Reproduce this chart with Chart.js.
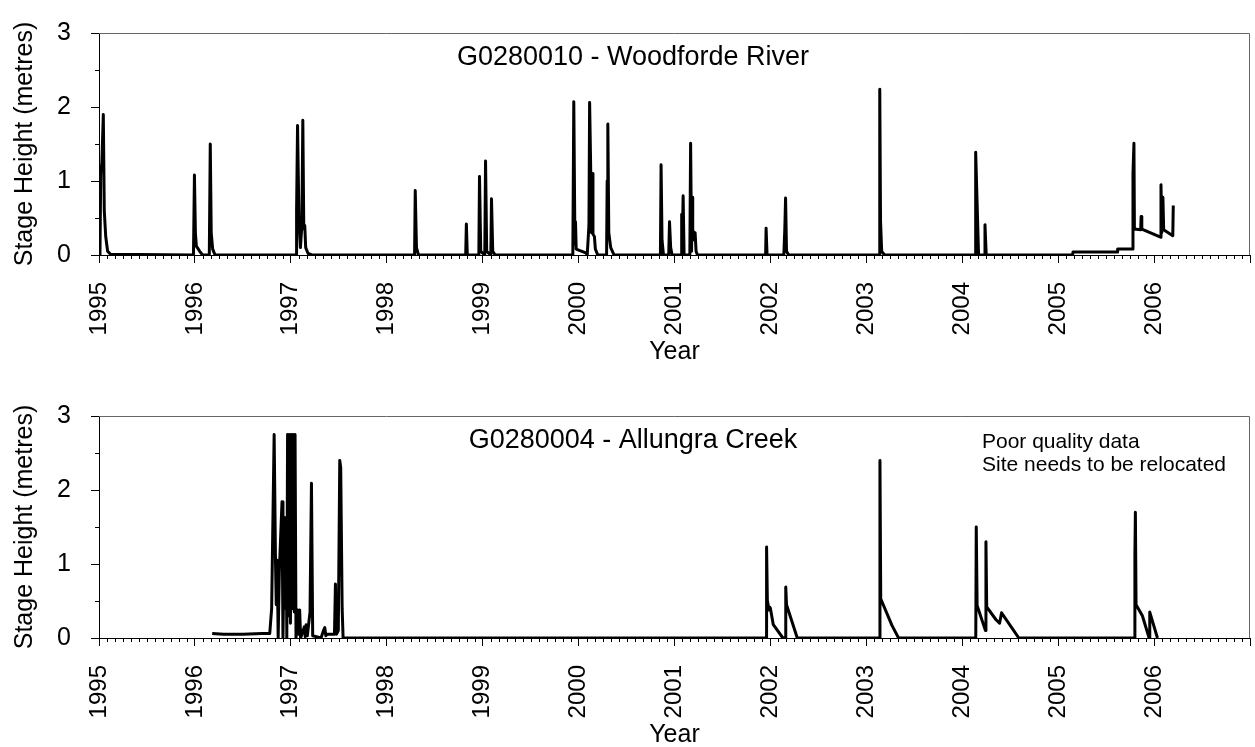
<!DOCTYPE html>
<html>
<head>
<meta charset="utf-8">
<script src="https://cdn.jsdelivr.net/npm/chart.js@4.4.1/dist/chart.umd.min.js"></script>
<style>
  html, body { margin: 0; padding: 0; background: #fff; overflow: hidden; }
  #wrap { position: relative; width: 1255px; height: 747px; }
  canvas { position: absolute; left: 0; }
</style>
</head>
<body>
<div id="wrap">
  <canvas id="woodforde" width="1255" height="373" style="top:0px"></canvas>
  <canvas id="allungra" width="1255" height="373" style="top:383px"></canvas>
</div>
<script>
// year ticks shown on both x axes
const yearTicks = [1995, 1996, 1997, 1998, 1999, 2000, 2001, 2002, 2003, 2004, 2005, 2006];

// G0280010 - Woodforde River (decimal year, stage in metres)
const woodYears = [
  1995.010, 1995.018, 1995.030, 1995.045, 1995.055, 1995.070, 1995.090, 1995.120,
  1995.985, 1995.995, 1996.005, 1996.015, 1996.050, 1996.080,
  1996.150, 1996.160, 1996.170, 1996.185, 1996.210,
  1997.055, 1997.060, 1997.070, 1997.085, 1997.100, 1997.115, 1997.125, 1997.135, 1997.145, 1997.155, 1997.180, 1997.220,
  1998.290, 1998.297, 1998.310, 1998.330,
  1998.823, 1998.830, 1998.840,
  1998.960, 1998.967, 1998.980,
  1999.022, 1999.030, 1999.042,
  1999.085, 1999.092, 1999.105, 1999.130,
  1999.940, 1999.950, 1999.962, 1999.968, 1999.975, 2000.075, 2000.090,
  2000.108, 2000.115, 2000.125, 2000.135, 2000.142, 2000.150, 2000.165, 2000.175, 2000.200,
  2000.292, 2000.298, 2000.305, 2000.315, 2000.335, 2000.370,
  2000.853, 2000.860, 2000.870, 2000.885,
  2000.940, 2000.948, 2000.960, 2000.975,
  2001.070, 2001.075, 2001.080, 2001.090, 2001.100,
  2001.160, 2001.168, 2001.178, 2001.183, 2001.190, 2001.196, 2001.205, 2001.215, 2001.225, 2001.240,
  2001.950, 2001.955, 2001.965,
  2002.140, 2002.150, 2002.158, 2002.168, 2002.190,
  2003.135, 2003.140, 2003.148, 2003.160, 2003.190,
  2004.135, 2004.140, 2004.170,
  2004.230, 2004.237, 2004.250,
  2005.150, 2005.155, 2005.615, 2005.620, 2005.775,
  2005.780, 2005.790, 2005.795, 2005.860, 2005.865, 2005.872,
  2006.068, 2006.072, 2006.080, 2006.092, 2006.100, 2006.195, 2006.200
];
const woodStage = [
  0.00, 1.10, 1.25, 1.90, 0.60, 0.25, 0.05, 0.01,
  0.00, 1.08, 0.30, 0.12, 0.05, 0.00,
  0.00, 1.50, 0.30, 0.08, 0.00,
  0.00, 0.60, 1.75, 0.45, 0.10, 0.40, 1.82, 0.35, 0.40, 0.10, 0.02, 0.00,
  0.00, 0.87, 0.10, 0.00,
  0.00, 0.42, 0.00,
  0.00, 1.06, 0.05,
  0.00, 1.27, 0.05,
  0.00, 0.76, 0.05, 0.00,
  0.00, 2.07, 0.15, 0.45, 0.08, 0.03, 0.00,
  0.40, 2.06, 1.27, 0.30, 1.10, 0.28, 0.25, 0.08, 0.00,
  0.00, 1.00, 1.77, 0.30, 0.10, 0.00,
  0.00, 1.22, 0.20, 0.00,
  0.00, 0.45, 0.10, 0.00,
  0.00, 0.55, 0.05, 0.80, 0.00,
  0.00, 1.51, 0.05, 0.78, 0.20, 0.32, 0.28, 0.30, 0.05, 0.00,
  0.00, 0.36, 0.00,
  0.00, 0.35, 0.77, 0.05, 0.00,
  0.00, 2.24, 0.46, 0.05, 0.00,
  0.00, 1.39, 0.00,
  0.00, 0.41, 0.00,
  0.00, 0.04, 0.04, 0.08, 0.08,
  1.10, 1.51, 0.35, 0.34, 0.52, 0.35,
  0.24, 0.95, 0.30, 0.78, 0.34, 0.26, 0.67
];

// G0280004 - Allungra Creek
const allYears = [
  1996.180, 1996.300, 1996.500, 1996.700, 1996.780,
  1996.800, 1996.826, 1996.840, 1996.848, 1996.858, 1996.868, 1996.880, 1996.908, 1996.918,
  1996.935, 1996.945, 1996.952, 1996.958, 1996.966, 1996.976, 1996.986, 1996.996,
  1997.006, 1997.016, 1997.026, 1997.036, 1997.044, 1997.054,
  1997.070, 1997.080, 1997.092, 1997.102, 1997.140, 1997.150, 1997.160, 1997.172,
  1997.200, 1997.215, 1997.228, 1997.315, 1997.340, 1997.354, 1997.365, 1997.380,
  1997.455, 1997.465, 1997.475, 1997.495, 1997.510, 1997.520, 1997.535, 1997.545,
  2001.955, 2001.960, 2001.968, 2001.985, 2001.990, 2002.000, 2002.030, 2002.130,
  2002.155, 2002.160, 2002.168, 2002.280,
  2003.137, 2003.142, 2003.150, 2003.267, 2003.336,
  2004.141, 2004.146, 2004.155, 2004.242, 2004.247, 2004.255, 2004.350, 2004.389, 2004.410, 2004.590,
  2005.795, 2005.800, 2005.805, 2005.812, 2005.878, 2005.948, 2005.955, 2006.035
];
const allStage = [
  0.06, 0.05, 0.05, 0.06, 0.06,
  0.40, 2.75, 1.05, 0.45, 1.05, 0.00, 0.90, 1.84, 0.00,
  1.63, 0.40, 1.50, 0.00, 2.75, 0.30, 2.75, 0.20,
  2.75, 0.40, 2.75, 0.35, 2.75, 0.00,
  0.38, 0.05, 0.38, 0.00, 0.15, 0.02, 0.18, 0.03,
  0.35, 2.09, 0.03, 0.00, 0.10, 0.14, 0.03, 0.05,
  0.05, 0.73, 0.05, 0.10, 2.40, 2.30, 0.40, 0.00,
  0.00, 1.23, 0.51, 0.38, 0.42, 0.40, 0.18, 0.00,
  0.00, 0.69, 0.45, 0.00,
  0.00, 2.40, 0.53, 0.17, 0.00,
  0.00, 1.50, 0.44, 0.10, 1.30, 0.42, 0.25, 0.20, 0.34, 0.00,
  0.00, 1.12, 1.70, 0.45, 0.30, 0.00, 0.35, 0.00
];

const FONT = "Arial, 'Liberation Sans', sans-serif";
Chart.defaults.color = '#000';
Chart.defaults.font.family = FONT;

// monthly minor ticks, half-metre ticks, frame and in-plot text
const extras = {
  id: 'extras',
  afterDraw(chart, args, opts) {
    const { ctx, chartArea: a, scales: { x, y } } = chart;
    ctx.save();
    ctx.strokeStyle = '#000';
    ctx.lineWidth = 1;
    ctx.beginPath();
    for (let m = 1; m < 12 * 12; m++) {
      if (m % 12 === 0) continue;
      const px = Math.round(x.getPixelForValue(1995 + m / 12)) + 0.5;
      ctx.moveTo(px, a.bottom);
      ctx.lineTo(px, a.bottom + 4);
    }
    [0.5, 1.5, 2.5].forEach(v => {
      const py = Math.round(y.getPixelForValue(v)) + 0.5;
      ctx.moveTo(a.left - 4, py);
      ctx.lineTo(a.left, py);
    });
    ctx.stroke();

    ctx.strokeStyle = '#666';
    ctx.beginPath();
    ctx.moveTo(a.left, a.top + 0.5);
    ctx.lineTo(a.right - 0.5, a.top + 0.5);
    ctx.lineTo(a.right - 0.5, a.bottom);
    ctx.stroke();

    ctx.fillStyle = '#000';
    ctx.textBaseline = 'middle';
    ctx.textAlign = 'center';
    ctx.font = '27px ' + FONT;
    ctx.fillText(opts.title, 633, 58);
    if (opts.notes) {
      ctx.textAlign = 'left';
      ctx.font = '21px ' + FONT;
      opts.notes.forEach((t, i) => ctx.fillText(t, 982, 59 + i * 23.5));
    }
    ctx.restore();
  }
};

function makeChart(id, years, stage, title, notes) {
  const points = years.map((yr, i) => ({ x: yr, y: stage[i] }));
  return new Chart(document.getElementById(id), {
    type: 'line',
    data: {
      datasets: [{
        data: points,
        borderColor: '#000',
        borderWidth: 3,
        borderJoinStyle: 'round',
        pointRadius: 0,
        tension: 0,
        fill: false
      }]
    },
    options: {
      responsive: false,
      animation: false,
      devicePixelRatio: 1,
      layout: { padding: { top: 33, right: 5, left: 0, bottom: 0 } },
      plugins: {
        legend: { display: false },
        tooltip: { enabled: false },
        extras: { title: title, notes: notes }
      },
      scales: {
        x: {
          type: 'linear',
          min: 1995,
          max: 2007,
          afterFit: s => { s.height = 118; s.paddingLeft = 0; s.paddingRight = 0; },
          grid: { drawOnChartArea: false, color: '#000', tickLength: 8 },
          border: { color: '#000', width: 1 },
          ticks: {
            stepSize: 1,
            autoSkip: false,
            minRotation: 90,
            maxRotation: 90,
            padding: 19,
            font: { size: 24 },
            callback: v => yearTicks.includes(v) ? String(v) : ''
          },
          title: { display: true, text: 'Year', font: { size: 25 }, padding: { top: 0, bottom: 6 } }
        },
        y: {
          min: 0,
          max: 3,
          afterFit: s => { s.width = 99; s.paddingTop = 0; s.paddingBottom = 0; },
          grid: { drawOnChartArea: false, color: '#000', tickLength: 8 },
          border: { color: '#000', width: 1 },
          ticks: { stepSize: 1, padding: 20, font: { size: 25 } },
          title: { display: true, text: 'Stage Height (metres)', font: { size: 25 }, padding: { top: 10, bottom: 0 } }
        }
      }
    },
    plugins: [extras]
  });
}

makeChart('woodforde', woodYears, woodStage, 'G0280010 - Woodforde River', null);
makeChart('allungra', allYears, allStage, 'G0280004 - Allungra Creek',
  ['Poor quality data', 'Site needs to be relocated']);
</script>
</body>
</html>
